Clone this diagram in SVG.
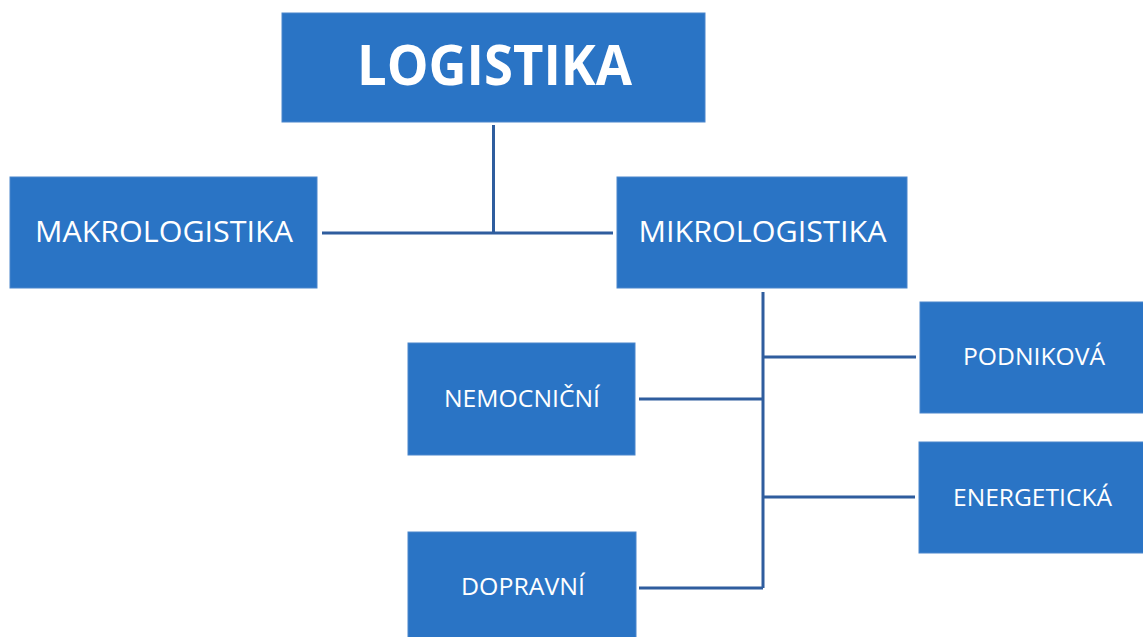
<svg xmlns="http://www.w3.org/2000/svg" width="1143" height="637" viewBox="0 0 1143 637">
<style>
.box{fill:#2A74C5;stroke:#4A86CC;stroke-width:1}
.lbl{fill:#ffffff;font-family:"Open Sans","Liberation Sans",sans-serif;text-anchor:middle}
.conn{stroke:#2F5D9E;stroke-width:3;fill:none}
</style>
<rect width="1143" height="637" fill="#ffffff"/>
<g id="connectors">
<path class="conn" d="M493.5 125 V233 M322 233 H613"/>
<path class="conn" d="M763 292 V588 M763 357 H916 M639 399 H763 M763 497 H915 M639 588 H763"/>
</g>
<g id="logistika">
<rect class="box" x="282" y="13" width="423" height="109"/>
<text class="lbl" x="494.5" y="85" font-size="55" font-weight="bold" textLength="275" lengthAdjust="spacingAndGlyphs">LOGISTIKA</text>
</g>
<g id="makrologistika">
<rect class="box" x="10" y="177" width="307" height="111"/>
<text class="lbl" x="164" y="242" font-size="30" textLength="258" lengthAdjust="spacingAndGlyphs">MAKROLOGISTIKA</text>
</g>
<g id="mikrologistika">
<rect class="box" x="617" y="177" width="290" height="111"/>
<text class="lbl" x="762.5" y="242" font-size="30" textLength="248" lengthAdjust="spacingAndGlyphs">MIKROLOGISTIKA</text>
</g>
<g id="nemocnicni">
<rect class="box" x="408" y="343" width="227" height="112"/>
<text class="lbl" x="522" y="407" font-size="23" textLength="156" lengthAdjust="spacingAndGlyphs">NEMOCNIČNÍ</text>
</g>
<g id="dopravni">
<rect class="box" x="408" y="532" width="228" height="110"/>
<text class="lbl" x="523" y="595" font-size="23" textLength="124" lengthAdjust="spacingAndGlyphs">DOPRAVNÍ</text>
</g>
<g id="podnikova">
<rect class="box" x="920" y="302" width="228" height="111"/>
<text class="lbl" x="1034" y="365" font-size="23" textLength="142" lengthAdjust="spacingAndGlyphs">PODNIKOVÁ</text>
</g>
<g id="energeticka">
<rect class="box" x="919" y="442" width="229" height="111"/>
<text class="lbl" x="1032.5" y="506" font-size="23" textLength="159" lengthAdjust="spacingAndGlyphs">ENERGETICKÁ</text>
</g>
</svg>
